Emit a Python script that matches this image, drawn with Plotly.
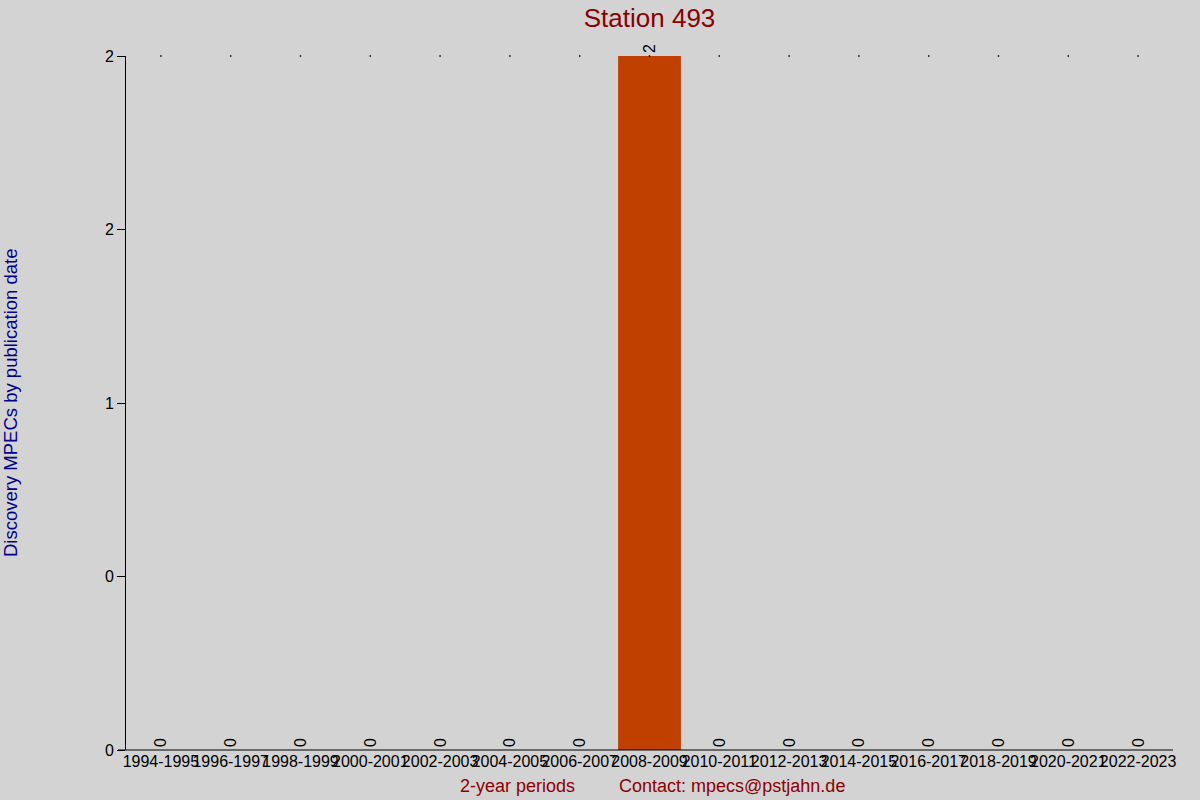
import plotly.graph_objects as go

periods = ["1994-1995", "1996-1997", "1998-1999", "2000-2001", "2002-2003",
           "2004-2005", "2006-2007", "2008-2009", "2010-2011", "2012-2013",
           "2014-2015", "2016-2017", "2018-2019", "2020-2021", "2022-2023"]
counts = [0, 0, 0, 0, 0, 0, 0, 2, 0, 0, 0, 0, 0, 0, 0]
ytick_vals = [0, 0.5, 1, 1.5, 2]
ytick_text = ["0", "0", "1", "2", "2"]
top_marks = [2] * len(periods)

FONT = "Liberation Sans, Arial, sans-serif"

fig = go.Figure()
fig.add_trace(go.Scatter(
    x=periods, y=top_marks, mode="markers",
    marker=dict(size=1.5, color="black", symbol="square"),
    hoverinfo="skip", showlegend=False, cliponaxis=False))
fig.add_trace(go.Bar(
    x=periods, y=counts, width=0.9,
    marker=dict(color="#C04000", line=dict(width=0)),
    text=[str(c) for c in counts], textposition="outside", textangle=-90,
    textfont=dict(size=16, color="black", family=FONT),
    cliponaxis=False, showlegend=False))

fig.update_layout(
    width=1200, height=800,
    paper_bgcolor="#D3D3D3", plot_bgcolor="#D3D3D3",
    margin=dict(l=126, r=27, t=56, b=50),
    font=dict(family=FONT, size=16, color="black"),
    title=dict(text="Station 493", x=0.5413, xanchor="center", y=0.978, yanchor="middle",
               font=dict(size=26, color="#8B0000", family=FONT)),
    xaxis=dict(type="category", range=[-0.5, len(periods) - 0.5],
               showgrid=False, showline=False, ticks="",
               tickangle=0, tickfont=dict(size=16, color="black"), zeroline=False),
    yaxis=dict(range=[0, 2], tickvals=ytick_vals, ticktext=ytick_text,
               showgrid=False, zeroline=False, showline=True, linecolor="black",
               linewidth=1, ticks="outside", ticklen=8, tickcolor="black",
               tickfont=dict(size=16, color="black")),
    bargap=0.1,
    shapes=[dict(type="line", xref="paper", yref="paper",
                 x0=-8/1047, x1=1, y0=0, y1=0,
                 line=dict(color="black", width=1))],
    annotations=[
        dict(text="2-year periods", xref="paper", yref="paper",
             x=(517-126)/1047, y=-36/694, xanchor="center", yanchor="middle",
             showarrow=False, font=dict(size=18, color="#8B0000")),
        dict(text="Contact: mpecs@pstjahn.de", xref="paper", yref="paper",
             x=(732-126)/1047, y=-36/694, xanchor="center", yanchor="middle",
             showarrow=False, font=dict(size=18, color="#8B0000")),
        dict(text="Discovery MPECs by publication date", xref="paper", yref="paper",
             x=-116/1047, y=0.5, xanchor="center", yanchor="middle", textangle=-90,
             showarrow=False, font=dict(size=18.5, color="#00008B")),
    ],
)

fig.write_html("out.html", config={"displayModeBar": False})

with open("out.html", "r", encoding="utf-8") as f:
    html = f.read()
html = html.replace("<body>", '<body style="margin:0;padding:0;background:#D3D3D3">', 1)
html = html.replace("<head>", '<head><style>html,body{margin:0;padding:0;}</style>', 1)
with open("out.html", "w", encoding="utf-8") as f:
    f.write(html)
